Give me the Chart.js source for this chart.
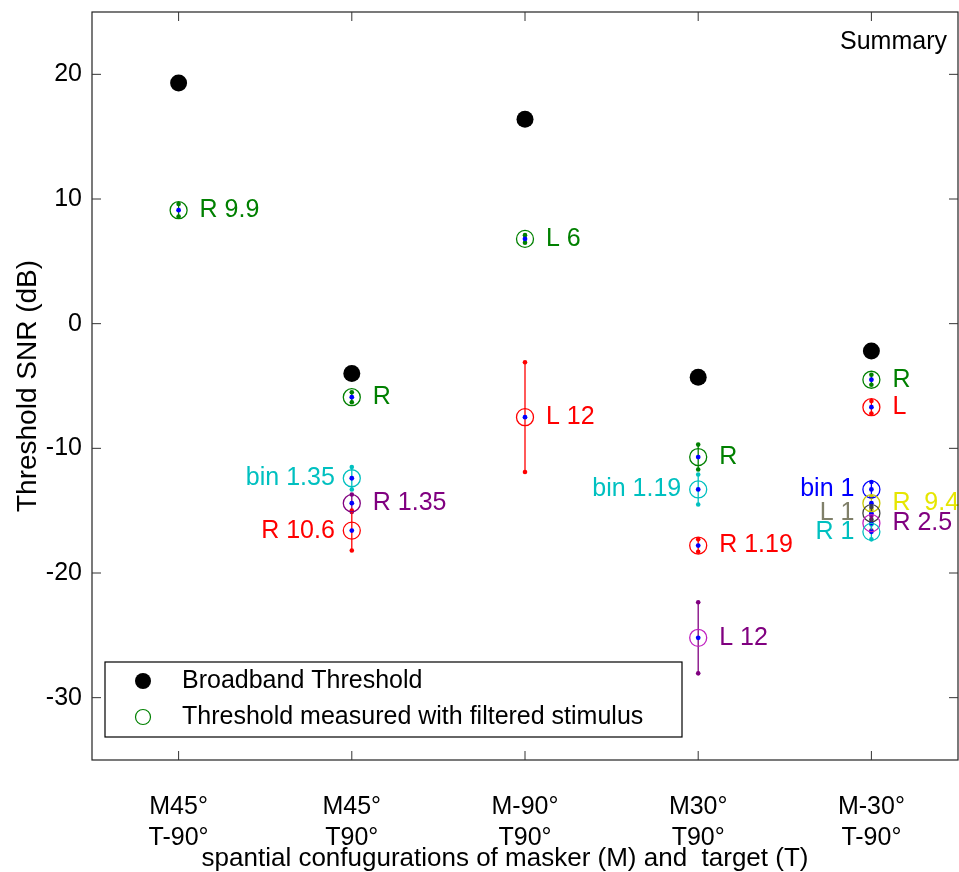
<!DOCTYPE html>
<html>
<head>
<meta charset="utf-8">
<script src="https://cdn.jsdelivr.net/npm/chart.js@4/dist/chart.umd.min.js"></script>
<style>
  body { margin: 0; background: #fff; }
</style>
</head>
<body>
<canvas id="snrChart" width="959" height="872"></canvas>
<script>
const configs = [["M45°", "T-90°"], ["M45°", "T90°"], ["M-90°", "T90°"], ["M30°", "T90°"], ["M-30°", "T-90°"]];
const yTicks = [-30, -20, -10, 0, 10, 20];

// broadband threshold, one per configuration
const broadband = [19.3, -4.0, 16.4, -4.3, -2.2];

// filtered-stimulus thresholds
const filtPos = [1, 2, 2, 2, 2, 3, 3, 4, 4, 4, 4, 5, 5, 5, 5, 5, 5, 5];
const filtVal = [9.1, -5.9, -12.4, -14.4, -16.6, 6.8, -7.5, -10.7, -13.3, -17.8, -25.2, -4.5, -6.7, -13.3, -14.4, -15.2, -16.0, -16.7];
const filtErr = [0.5, 0.4, 0.9, 0.7, 1.6, 0.3, 4.4, 1.0, 1.2, 0.5, 2.85, 0.4, 0.5, 0.6, 0.5, 0.5, 0.6, 0.6];
const filtLabel = ["R 9.9", "R", "bin 1.35", "R 1.35", "R 10.6", "L 6", "L 12", "R", "bin 1.19", "R 1.19", "L 12",
  "R", "L", "bin 1", "R  9.4", "L 1", "R 2.5", "R 1"];

// styling for each filtered point
const labelLeft = [0, 0, 1, 0, 1, 0, 0, 0, 1, 0, 0, 0, 0, 1, 0, 1, 0, 1];
const GREEN = "#008000", RED = "#ff0000", CYAN = "#00c0c0", PURPLE = "#800080",
  MAGENTA = "#c020c0", BLUE = "#0000ff", YELLOW = "#e6e600", OLIVE = "#c8c800",
  GRAYTXT = "#80806a", DARKGRAY = "#404040";
const circleColor = [GREEN, GREEN, CYAN, PURPLE, RED, GREEN, RED, GREEN, CYAN, RED, MAGENTA,
  GREEN, RED, BLUE, OLIVE, DARKGRAY, MAGENTA, CYAN];
const textColor = [GREEN, GREEN, CYAN, PURPLE, RED, GREEN, RED, GREEN, CYAN, RED, PURPLE,
  GREEN, RED, BLUE, YELLOW, GRAYTXT, PURPLE, CYAN];
const errColor = [GREEN, GREEN, CYAN, PURPLE, RED, GREEN, RED, GREEN, CYAN, RED, PURPLE,
  GREEN, RED, BLUE, OLIVE, DARKGRAY, PURPLE, CYAN];

const FONT = "'Liberation Sans', Arial, sans-serif";
const X_TITLE = "spantial confugurations of masker (M) and  target (T)";

const broadPts = broadband.map((v, i) => ({ x: i + 1, y: v }));
const filtPts = filtVal.map((v, i) => ({ x: filtPos[i], y: v }));

function zeroPadding(scale) {
  scale.paddingLeft = 0;
  scale.paddingRight = 0;
  scale.paddingTop = 0;
  scale.paddingBottom = 0;
}

// let the plot box run to the right edge of the canvas
const stretchPlugin = {
  id: "stretch",
  afterLayout(chart) {
    const a = chart.chartArea;
    a.right = chart.width - 1;
    a.width = a.right - a.left;
    const x = chart.scales.x;
    x.right = a.right;
    x.width = a.width;
    x.configure();
  }
};

// frame with inward ticks on all four sides
const framePlugin = {
  id: "frame",
  afterDraw(chart) {
    const { ctx, chartArea: a, scales } = chart;
    ctx.save();
    ctx.strokeStyle = "#222";
    ctx.lineWidth = 1.2;
    ctx.strokeRect(a.left, a.top, a.right - a.left, a.bottom - a.top);
    ctx.strokeStyle = "#333";
    ctx.lineWidth = 1;
    const tl = 9;
    ctx.beginPath();
    [1, 2, 3, 4, 5].forEach((v) => {
      const px = scales.x.getPixelForValue(v);
      ctx.moveTo(px, a.bottom); ctx.lineTo(px, a.bottom - tl);
      ctx.moveTo(px, a.top); ctx.lineTo(px, a.top + tl);
    });
    yTicks.forEach((v) => {
      const py = scales.y.getPixelForValue(v);
      ctx.moveTo(a.left, py); ctx.lineTo(a.left + tl, py);
      ctx.moveTo(a.right, py); ctx.lineTo(a.right - tl, py);
    });
    ctx.stroke();

    ctx.fillStyle = "#000";
    ctx.font = "25px " + FONT;
    ctx.textAlign = "right";
    ctx.textBaseline = "middle";
    ctx.fillText("Summary", a.right - 11, a.top + 30);

    // axis caption under the tick labels
    ctx.textAlign = "center";
    ctx.font = "26px " + FONT;
    ctx.fillText(X_TITLE, a.left + 413, a.bottom + 99);
    ctx.font = "25px " + FONT;

    // legend box
    const lx = a.left + 13, ly = a.bottom - 98, lw = 577, lh = 75;
    ctx.fillStyle = "#fff";
    ctx.fillRect(lx, ly, lw, lh);
    ctx.strokeStyle = "#000";
    ctx.lineWidth = 1.2;
    ctx.strokeRect(lx, ly, lw, lh);
    ctx.fillStyle = "#000";
    ctx.beginPath();
    ctx.arc(lx + 38, ly + 19, 8, 0, Math.PI * 2);
    ctx.fill();
    ctx.strokeStyle = GREEN;
    ctx.lineWidth = 1.2;
    ctx.beginPath();
    ctx.arc(lx + 38, ly + 55, 7.5, 0, Math.PI * 2);
    ctx.stroke();
    ctx.fillStyle = "#000";
    ctx.textAlign = "left";
    ctx.fillText(chart.data.datasets[0].label, lx + 77, ly + 19);
    ctx.fillText(chart.data.datasets[1].label, lx + 77, ly + 55);
    ctx.restore();
  }
};

// vertical error bars with dotted ends
const errorBarPlugin = {
  id: "errorBars",
  beforeDatasetsDraw(chart) {
    const { ctx, scales } = chart;
    ctx.save();
    filtVal.forEach((v, i) => {
      const px = scales.x.getPixelForValue(filtPos[i]);
      const top = scales.y.getPixelForValue(v + filtErr[i]);
      const bot = scales.y.getPixelForValue(v - filtErr[i]);
      ctx.strokeStyle = errColor[i];
      ctx.fillStyle = errColor[i];
      ctx.lineWidth = 1.3;
      ctx.beginPath();
      ctx.moveTo(px, top); ctx.lineTo(px, bot);
      ctx.stroke();
      [top, bot].forEach((py) => {
        ctx.beginPath();
        ctx.arc(px, py, 2.3, 0, Math.PI * 2);
        ctx.fill();
      });
    });
    ctx.restore();
  }
};

// text tags beside each filtered point
const tagPlugin = {
  id: "tags",
  afterDatasetsDraw(chart) {
    const { ctx, scales } = chart;
    ctx.save();
    ctx.font = "25px " + FONT;
    ctx.textBaseline = "middle";
    filtLabel.forEach((t, i) => {
      const px = scales.x.getPixelForValue(filtPos[i]);
      const py = scales.y.getPixelForValue(filtVal[i]);
      ctx.fillStyle = textColor[i];
      if (labelLeft[i]) {
        ctx.textAlign = "right";
        ctx.fillText(t, px - 17, py);
      } else {
        ctx.textAlign = "left";
        ctx.fillText(t, px + 21, py);
      }
    });
    ctx.restore();
  }
};

new Chart(document.getElementById("snrChart"), {
  type: "scatter",
  data: {
    datasets: [
      {
        label: "Broadband Threshold",
        data: broadPts,
        pointRadius: 8.5,
        pointBackgroundColor: "#000",
        pointBorderColor: "#000",
        pointBorderWidth: 0
      },
      {
        label: "Threshold measured with filtered stimulus",
        data: filtPts,
        pointRadius: 8.5,
        pointBackgroundColor: "rgba(0,0,0,0)",
        pointBorderColor: circleColor,
        pointBorderWidth: 1.3
      },
      {
        label: "centres",
        data: broadPts.concat(filtPts),
        pointRadius: 2.4,
        pointBackgroundColor: BLUE,
        pointBorderWidth: 0
      }
    ]
  },
  options: {
    responsive: false,
    animation: false,
    layout: { padding: { top: 12, right: 1, left: 0, bottom: 0 } },
    plugins: {
      legend: { display: false },
      tooltip: { enabled: false }
    },
    scales: {
      x: {
        type: "linear",
        min: 0.5,
        max: 5.5,
        grid: { display: false, drawTicks: false },
        border: { display: false },
        afterBuildTicks: (scale) => {
          scale.ticks = configs.map((c, i) => ({ value: i + 1 }));
        },
        afterFit: (scale) => {
          scale.height = 112;
          zeroPadding(scale);
        },
        ticks: {
          color: "#000",
          padding: 31,
          font: { family: FONT, size: 25, lineHeight: 1.25 },
          callback: (v) => configs[v - 1]
        }
      },
      y: {
        min: -35,
        max: 25,
        grid: { display: false, drawTicks: false },
        border: { display: false },
        afterBuildTicks: (scale) => {
          scale.ticks = yTicks.map((v) => ({ value: v }));
        },
        afterFit: (scale) => {
          scale.width = 92;
          zeroPadding(scale);
        },
        ticks: {
          color: "#000",
          padding: 10,
          font: { family: FONT, size: 25 }
        },
        title: {
          display: true,
          text: "Threshold SNR (dB)",
          color: "#000",
          font: { family: FONT, size: 28 },
          padding: { top: 11, bottom: 0 }
        }
      }
    }
  },
  plugins: [stretchPlugin, errorBarPlugin, tagPlugin, framePlugin]
});
</script>
</body>
</html>
